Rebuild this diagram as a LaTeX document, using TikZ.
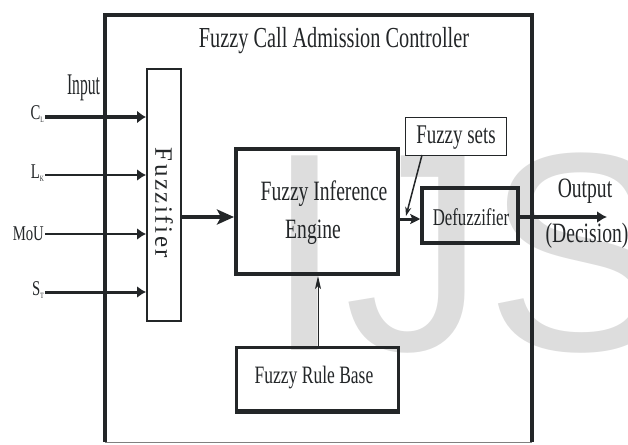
\documentclass[tikz,border=0pt]{standalone}
\usepackage{fontspec}
\setmainfont{Liberation Serif}
\newfontfamily\condf[FakeStretch=0.7]{Liberation Serif}
\newfontfamily\narrowf[FakeStretch=0.52]{Liberation Serif}
\newfontfamily\spacedf[LetterSpace=10]{Liberation Serif}
\newfontfamily\wmf{Liberation Sans}
\usetikzlibrary{arrows.meta}
\newcommand{\fsz}[1]{\fontsize{#1}{#1}\selectfont}
\newcommand{\subs}[1]{\raisebox{-3pt}{\fsz{8}#1}}
\definecolor{ink}{RGB}{35,38,40}
\definecolor{wmgray}{RGB}{221,221,221}
\begin{document}
\begin{tikzpicture}[x=1pt,y=-1pt,
  boxx/.style={draw=ink, inner sep=0pt},
  txt/.style={inner sep=0pt, text=ink, anchor=base},
  lbl/.style={inner sep=0pt, text=ink, anchor=base east, font=\condf\fsz{21}},
  conn/.style={draw=ink, line cap=butt}
]
\useasboundingbox (0,0) rectangle (628,444);
% watermark
\node[inner sep=0pt, anchor=base west, text=wmgray, font=\wmf\fsz{283}] (wm) at (265.5,350) {IJS};

% outer frame
\node[inner sep=0pt, minimum width=427, minimum height=427] (ctrl) at (318.5,228.5) {};
\draw[line width=3.5, ink] (ctrl.south west) -- (ctrl.north west) -- (ctrl.north east) -- (ctrl.south east);
\draw[line width=1.2, gray] (ctrl.south west) -- (ctrl.south east);
\node[txt, font=\condf\fsz{29}] (title) at (334,48) {Fuzzy Call Admission Controller};

% boxes
\node[boxx, line width=2, minimum width=34, minimum height=252] (fuzz) at (164,195) {};
\node[inner sep=0pt, rotate=-90, text=ink, font=\spacedf\fsz{25}] (fuzztxt) at (164,203) {Fuzzifier};

\node[boxx, line width=4, minimum width=162, minimum height=125] (fie) at (317,211.5) {};
\node[txt, font=\condf\fsz{28}] (fie1) at (324,200) {Fuzzy Inference};
\node[txt, font=\condf\fsz{28}] (fie2) at (313,238) {Engine};

\node[boxx, line width=3.5, minimum width=96, minimum height=55] (defz) at (470,215.5) {};
\node[txt, font=\condf\fsz{24}] (defztxt) at (471,225) {Defuzzifier};

\node[boxx, line width=0.8, minimum width=101, minimum height=38] (fsets) at (455.5,136) {};
\node[txt, font=\condf\fsz{27}] (fsetstxt) at (456,143) {Fuzzy sets};

\node[boxx, line width=3, minimum width=162, minimum height=65] (frb) at (317,379.5) {};
\fill[ink] (frb.south west) rectangle ([yshift=5pt]frb.south east);
\node[txt, font=\condf\fsz{25}] (frbtxt) at (314,383) {Fuzzy Rule Base};

% inputs
\node[txt, font=\narrowf\fsz{30}] (input) at (83.5,94) {Input};
\node[lbl] (lcl) at (44,119) {C\subs{L}};
\node[lbl] (llk) at (44,178) {L\subs{K}};
\node[lbl] (lmou) at (44,240.5) {MoU};
\node[lbl] (lst) at (44,295) {S\subs{T}};
\coordinate (icl) at (45,117);
\coordinate (ilk) at (45,175);
\coordinate (imou) at (45,234);
\coordinate (ist) at (45,292);
\draw[conn, line width=4, -{Latex[length=9pt,width=13pt]}] (icl) -- (icl -| fuzz.west);
\draw[conn, line width=2.5, -{Latex[length=9pt,width=12pt]}] (ilk) -- (ilk -| fuzz.west);
\draw[conn, line width=2, -{Latex[length=9pt,width=12pt]}] (imou) -- (imou -| fuzz.west);
\draw[conn, line width=3, -{Latex[length=9pt,width=12pt]}] (ist) -- (ist -| fuzz.west);

% internal connectors
\coordinate (fz) at (182,217);
\draw[conn, line width=4, -{Stealth[length=17pt,width=15pt,inset=4pt]}] (fz -| fuzz.east) -- (fz -| fie.west);
\coordinate (fd) at (400,219);
\draw[conn, line width=3, -{Stealth[length=10pt,width=10pt,inset=2pt]}] (fd -| fie.east) -- (fd -| defz.west);
\coordinate (fsb) at (422,155);
\coordinate (fst) at (406,216);
\draw[conn, line width=1.5, -{Stealth[length=9pt,width=6pt]}] (fsb) -- (fst);
\coordinate (oe) at (607,217);
\draw[conn, line width=4, -{Latex[length=10pt,width=12pt]}] (oe -| defz.east) -- (oe);
\coordinate (rb) at (318,300);
\draw[conn, line width=1, -{Stealth[length=13pt,width=6pt,inset=3pt]}] (rb |- frb.north) -- (rb |- fie.south);

\node[txt, font=\condf\fsz{28}] (outtxt) at (585,197) {Output};
\node[txt, font=\condf\fsz{28}] (dectxt) at (587,242) {(Decision)};
\end{tikzpicture}
\end{document}
